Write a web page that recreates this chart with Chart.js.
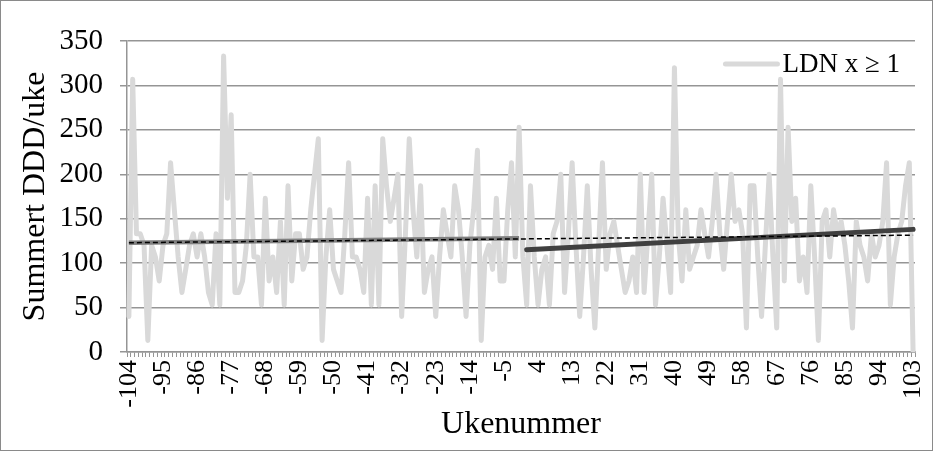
<!DOCTYPE html>
<html>
<head>
<meta charset="utf-8">
<script src="https://cdn.jsdelivr.net/npm/chart.js@4.4.0/dist/chart.umd.min.js"></script>
<style>
  html, body { margin: 0; padding: 0; background: #fff; }
  canvas { display: block; }
</style>
</head>
<body>
<canvas id="chart" width="933" height="451"></canvas>
<script>
// Ukenummer -104 .. 103 (uke 0 er med)
const firstWeek = -104;
const lastWeek = 103;
const weeks = Array.from({ length: lastWeek - firstWeek + 1 }, (_, i) => firstWeek + i);

// Bare hver 9. uke vises på x-aksen
const tickLabels = [-104, -95, -86, -77, -68, -59, -50, -41, -32, -23, -14, -5,
                    4, 13, 22, 31, 40, 49, 58, 67, 76, 85, 94, 103];

// Summert DDD per uke (LDN x >= 1), lest av figuren
const ddd = [
  40, 307, 133, 133, 120, 13, 120, 107, 80, 120,        // -104 .. -95
  133, 213, 160, 107, 67, 93, 120, 133, 107, 133,       // -94 .. -85
  107, 67, 53, 133, 53, 333, 173, 267, 67, 67,          // -84 .. -75
  80, 120, 200, 107, 107, 53, 173, 80, 107, 67,         // -74 .. -65
  147, 53, 187, 80, 133, 133, 93, 107, 160, 200,        // -64 .. -55
  240, 13, 107, 160, 93, 80, 67, 133, 213, 107,         // -54 .. -45
  107, 93, 67, 173, 53, 187, 53, 240, 187, 147,         // -44 .. -35
  173, 200, 40, 133, 240, 160, 107, 187, 67, 93,        // -34 .. -25
  107, 40, 107, 160, 133, 107, 187, 160, 107, 40,       // -24 .. -15
  120, 160, 227, 13, 107, 120, 93, 173, 80, 80,         // -14 .. -5
  160, 213, 107, 253, 107, 53, 187, 107, 53, 93,        // -4 .. 5
  107, 53, 133, 147, 200, 67, 133, 213, 120, 40,        // 6 .. 15
  107, 187, 93, 27, 120, 213, 93, 133, 147, 120,        // 16 .. 25
  93, 67, 80, 107, 67, 200, 67, 133, 200, 53,           // 26 .. 35
  107, 173, 120, 67, 320, 133, 80, 160, 93, 107,        // 36 .. 45
  120, 160, 133, 107, 147, 200, 133, 93, 147, 200,      // 46 .. 55
  147, 160, 133, 27, 187, 187, 107, 40, 120, 200,       // 56 .. 65
  107, 27, 307, 80, 253, 147, 173, 80, 107, 67,         // 66 .. 75
  187, 107, 13, 147, 160, 107, 160, 133, 147, 120,      // 76 .. 85
  80, 27, 147, 120, 107, 80, 133, 107, 120, 147,        // 86 .. 95
  213, 53, 107, 133, 147, 187, 213, 0                   // 96 .. 103
];

// Trendlinjer: start- og sluttuke med verdier lest av figuren
const trendAllWeeks = [-104, 103];
const trendAllValues = [123, 131.5];
const trendBeforeWeeks = [-104, -1];
const trendBeforeValues = [123, 128];
const trendAfterWeeks = [1, 103];
const trendAfterValues = [115, 138];

const serif = "'Liberation Serif', 'Times New Roman', serif";
const gridGrey = '#959595';

const trendPoints = (w, v) => w.map((week, i) => ({ x: String(week), y: v[i] }));

// Hvit bakgrunn
const bgPlugin = {
    id: 'bg',
    beforeDraw(chart) {
        const ctx = chart.ctx;
        ctx.save();
        ctx.fillStyle = '#fff';
        ctx.fillRect(0, 0, chart.width, chart.height);
        ctx.restore();
    }
};

// Forklaring inne i plotteområdet, oppe til høyre
const insideLegend = {
    id: 'insideLegend',
    afterDatasetsDraw(chart) {
        const { ctx, chartArea } = chart;
        const ds = chart.data.datasets[3];
        ctx.save();
        ctx.font = '27px ' + serif;
        const tw = ctx.measureText(ds.label).width;
        const tx = chartArea.right - 15 - tw;
        const y = chartArea.top + 23;
        ctx.strokeStyle = ds.borderColor;
        ctx.lineWidth = ds.borderWidth;
        ctx.lineCap = 'round';
        ctx.beginPath();
        ctx.moveTo(tx - 57, y);
        ctx.lineTo(tx - 5, y);
        ctx.stroke();
        ctx.fillStyle = '#000';
        ctx.textBaseline = 'middle';
        ctx.textAlign = 'left';
        ctx.fillText(ds.label, tx, y + 1);
        ctx.restore();
    }
};

// Ramme rundt hele figuren
const framePlugin = {
    id: 'frame',
    afterDraw(chart) {
        const ctx = chart.ctx;
        ctx.save();
        ctx.strokeStyle = '#8a8a8a';
        ctx.lineWidth = 1;
        ctx.strokeRect(0.5, 0.5, chart.width - 1, chart.height - 1);
        ctx.restore();
    }
};

const ctx = document.getElementById('chart').getContext('2d');
const chart = new Chart(ctx, {
    type: 'line',
    data: {
        labels: weeks.map(String),
        datasets: [
            {
                label: 'Trend alle',
                data: trendPoints(trendAllWeeks, trendAllValues),
                borderColor: '#000',
                borderWidth: 1.5,
                borderDash: [5, 3],
                pointRadius: 0,
                fill: false
            },
            {
                label: 'Trend etter',
                data: trendPoints(trendAfterWeeks, trendAfterValues),
                borderColor: '#404040',
                borderWidth: 5,
                borderCapStyle: 'round',
                pointRadius: 0,
                fill: false
            },
            {
                label: 'Trend før',
                data: trendPoints(trendBeforeWeeks, trendBeforeValues),
                borderColor: '#808080',
                borderWidth: 4.5,
                pointRadius: 0,
                fill: false
            },
            {
                label: 'LDN x \u2265 1',
                data: ddd,
                borderColor: '#d9d9d9',
                backgroundColor: '#d9d9d9',
                borderWidth: 5,
                borderJoinStyle: 'round',
                borderCapStyle: 'round',
                pointRadius: 0,
                tension: 0,
                fill: false
            }
        ]
    },
    options: {
        responsive: false,
        animation: false,
        devicePixelRatio: 1,
        layout: { padding: { top: 41, right: 18, bottom: 0, left: 0 } },
        plugins: {
            legend: { display: false },
            tooltip: { enabled: false }
        },
        scales: {
            x: {
                type: 'category',
                offset: true,
                afterFit: (scale) => {
                    scale.height = 99;
                    scale.paddingLeft = 0;
                    scale.paddingRight = 0;
                },
                grid: {
                    offset: true,
                    drawOnChartArea: false,
                    drawTicks: true,
                    tickLength: 5,
                    color: gridGrey,
                    lineWidth: 1
                },
                border: { color: gridGrey, width: 1.5 },
                ticks: {
                    autoSkip: false,
                    maxRotation: 90,
                    minRotation: 90,
                    padding: 3,
                    color: '#000',
                    font: { family: serif, size: 26 },
                    callback: function (value, index) {
                        const w = weeks[index];
                        return tickLabels.includes(w) ? String(w) : '';
                    }
                },
                title: {
                    display: true,
                    text: 'Ukenummer',
                    color: '#000',
                    font: { family: serif, size: 32 },
                    padding: { top: 0, bottom: 7 }
                }
            },
            y: {
                min: 0,
                max: 350,
                afterFit: (scale) => { scale.width = 127; },
                grid: {
                    color: gridGrey,
                    lineWidth: 1.5,
                    tickLength: 7
                },
                border: { color: gridGrey, width: 1.5 },
                ticks: {
                    stepSize: 50,
                    padding: 17,
                    color: '#000',
                    font: { family: serif, size: 29 }
                },
                title: {
                    display: true,
                    text: 'Summert DDD/uke',
                    color: '#000',
                    font: { family: serif, size: 32 },
                    padding: { top: 16, bottom: 0 }
                }
            }
        }
    },
    plugins: [bgPlugin, insideLegend, framePlugin]
});
</script>
</body>
</html>
